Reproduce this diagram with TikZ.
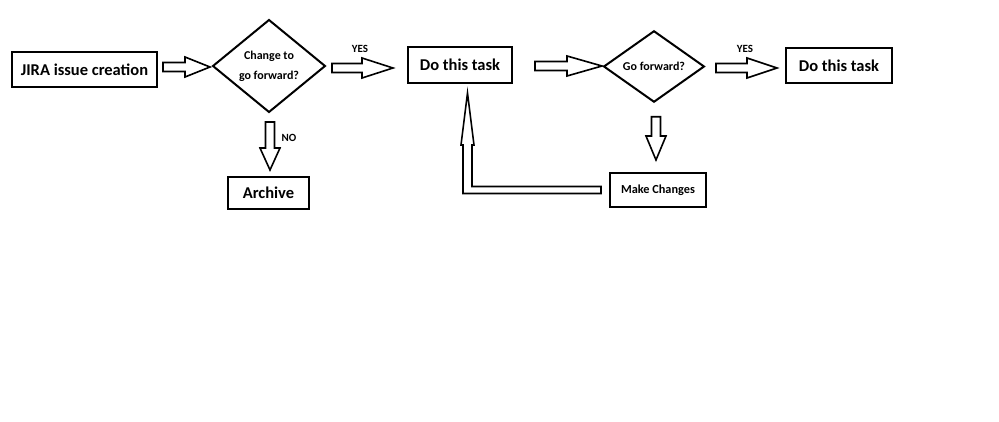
\documentclass[tikz,border=0pt]{standalone}
\usepackage{fontspec}
\setmainfont{Carlito}
\usepackage{tikz}
\usetikzlibrary{calc,shapes.geometric}

% hollow block arrow: [head length]{from}{to}
\newcommand{\blockarrow}[3][30]{%
  \coordinate (hb) at ($(#3)!#1pt!(#2)$);
  \draw[blockline] ($(#2)!4.5pt!90:(#3)$) -- ($(hb)!4.5pt!90:(#3)$)
    -- ($(hb)!10pt!90:(#3)$) -- (#3) -- ($(hb)!10pt!-90:(#3)$)
    -- ($(hb)!4.5pt!-90:(#3)$) -- ($(#2)!4.5pt!-90:(#3)$) -- cycle;
}

\begin{document}
\begin{tikzpicture}[x=1pt,y=-1pt,
  box/.style={draw,line width=2.6pt,rectangle,inner sep=0pt,outer sep=0pt,font=\bfseries\fontsize{16.5}{18}\selectfont},
  smallbox/.style={box,line width=2pt,font=\bfseries\fontsize{12.3}{14}\selectfont},
  decision/.style={draw,line width=2pt,diamond,inner sep=0pt,outer sep=0pt,align=center,font=\bfseries\fontsize{12}{20}\selectfont},
  blockline/.style={draw,line width=1.6pt,fill=white,line join=miter},
  lbl/.style={font=\bfseries\fontsize{11}{12}\selectfont}]
\useasboundingbox[fill=white] (0,0) rectangle (999,422);

\node[box,minimum width=145pt,minimum height=35pt] (jira) at (84.5,69.5) {JIRA issue creation};
\node[decision,minimum width=112pt,minimum height=92pt] (q1) at (269,66) {Change to\\go forward?};
\node[box,minimum width=104pt,minimum height=36pt] (task1) at (460,65) {Do this task};
\node[box,minimum width=81pt,minimum height=32pt] (arch) at (268.5,193) {Archive};
\node[decision,minimum width=100pt,minimum height=65pt] (q2) at (654,66.5) {Go forward?};
\node[box,minimum width=106pt,minimum height=35pt] (task2) at (839,65.5) {Do this task};
\node[smallbox,minimum width=96pt,minimum height=34pt] (mk) at (658,190) {Make Changes};

\coordinate (a1s) at ($(jira.east)+(6,-2.5)$);
\coordinate (a1e) at ($(q1.west)+(-3,1)$);
\coordinate (a2s) at ($(q1.east)+(7,2)$);
\coordinate (a2e) at ($(task1.west)+(-15,3)$);
\coordinate (a3s) at ($(task1.east)+(23,1)$);
\coordinate (a3e) at ($(q2.west)+(-2,-0.5)$);
\coordinate (a4s) at ($(q2.east)+(12,1.5)$);
\coordinate (a4e) at ($(task2.west)+(-9,2.5)$);
\coordinate (nos) at ($(q1.south)+(1,10)$);
\coordinate (noe) at ($(arch.north)+(1.5,-7)$);
\coordinate (a5s) at ($(q2.south)+(2,15)$);
\coordinate (a5e) at ($(mk.north)+(-2,-13)$);

\blockarrow[25]{a1s}{a1e}
\blockarrow[31]{a2s}{a2e}
\blockarrow[35]{a3s}{a3e}
\blockarrow[30]{a4s}{a4e}
\blockarrow[22]{nos}{noe}
\blockarrow[24]{a5s}{a5e}

% loop back from the changes
\coordinate (rs) at ($(mk.west)+(-9,0)$);
\coordinate (rt) at ($(task1.south)+(7.5,10)$);
\draw[blockline] ($(rs)+(0,-3.5)$) -| ($(rt)+(4.5,52)$) -- ++(2,0) -- (rt)
  -- ++(-6.5,52) -- ++(2,0) |- ($(rs)+(0,3.5)$) -- cycle;

\node[lbl] (yes1) at (360,49) {YES};
\node[lbl] (no1) at (289,138) {NO};
\node[lbl] (yes2) at (745,49) {YES};
\end{tikzpicture}
\end{document}
